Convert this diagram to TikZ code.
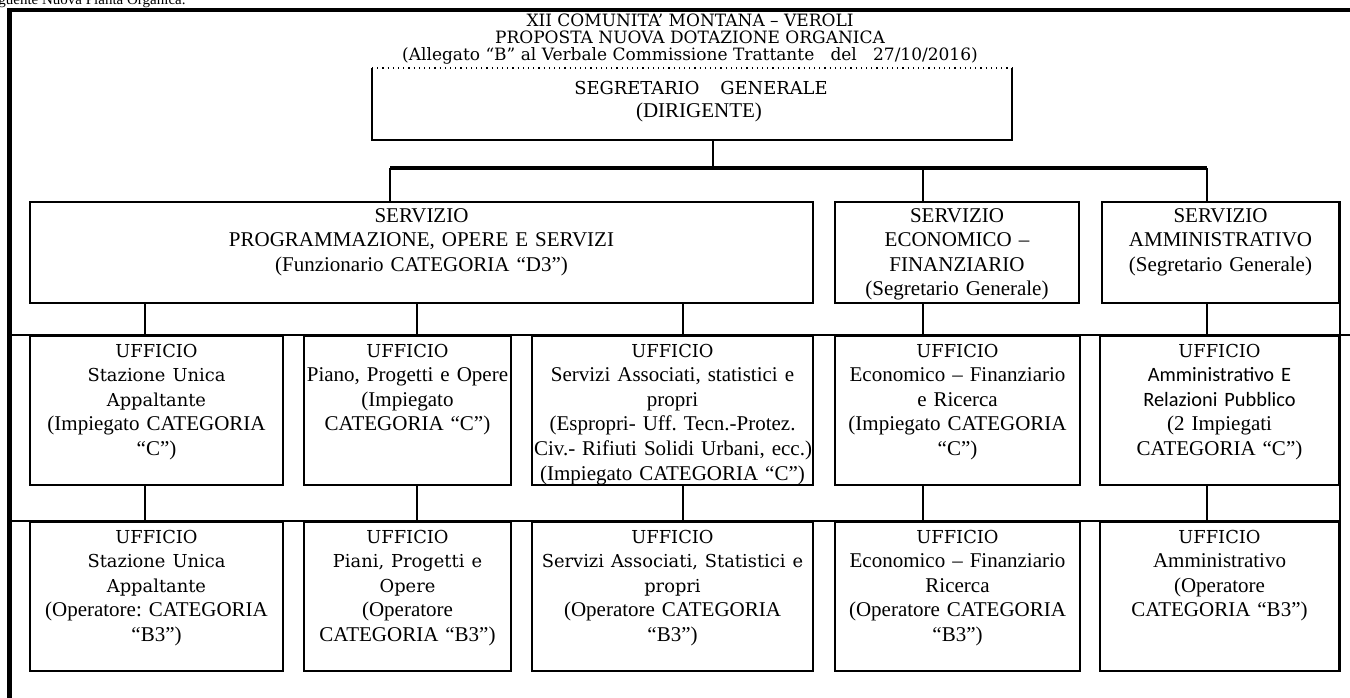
\documentclass[tikz,border=0pt]{standalone}
\usepackage{fontspec}
\setmainfont{Liberation Serif}
\newfontfamily\cam{DejaVu Serif}[Scale=0.85]
\newfontfamily\calibri{Carlito}[Scale=0.97]
\usetikzlibrary{calc}
\frenchspacing

\tikzset{
	cell/.style={draw, line width=1pt, anchor=north west, inner xsep=1pt, inner ysep=0pt, align=center, font=\fontsize{10.5}{12.3}\selectfont},
	srvrow/.style={cell, text height=10pt, text depth=40.5pt},
	uffrow/.style={cell, text height=10.5pt, text depth=64pt},
	link/.style={line width=1pt},
	bus/.style={line width=2pt},
	frame/.style={line width=2.4pt}
}

\begin{document}
\begin{tikzpicture}[x=0.5pt, y=-0.5pt]
	\useasboundingbox (0,0) rectangle (1350,697);
	\coordinate (fr) at (9.5,10);
	\coordinate (edgeR) at (1352,10);
	\coordinate (edgeB) at (9.5,699);
	\draw[frame] (edgeB) -- (fr) -- (edgeR);
	\node[anchor=base west, inner sep=0pt, font=\fontsize{7.5}{9}\selectfont] (hdr) at (-2,4) {guente Nuova Pianta Organica.};
	\node[align=center, inner sep=0pt, font={\cam\fontsize{10}{8.7}\selectfont}] (ttl) at (690,39)
		{XII COMUNITA’ MONTANA – VEROLI\\PROPOSTA NUOVA DOTAZIONE ORGANICA\\(Allegato “B” al Verbale Commissione Trattante\ \ \ del\ \ \ 27/10/2016)};

	% segretario
	\node[cell, draw=none, text width=317pt, text height=12.75pt, text depth=22.25pt, font=\fontsize{10.5}{11.5}\selectfont] (seg) at (372,68)
		{\hspace*{9pt}{\cam SEGRETARIO\ \ \ GENERALE}\\\hspace*{7pt}(DIRIGENTE)};
	\draw[link] (seg.north west) -- (seg.south west) -- (seg.south east) -- (seg.north east);
	\draw[dotted, line width=0.6pt] (seg.north west) -- (seg.north east);

	% servizi
	\node[srvrow, text width=389.5pt] (srvA) at (29,201) {SERVIZIO\\PROGRAMMAZIONE, OPERE E SERVIZI\\(Funzionario CATEGORIA “D3”)};
	\node[srvrow, text width=120pt] (srvB) at (834,201) {SERVIZIO\\ECONOMICO –\\FINANZIARIO\\(Segretario Generale)};
	\node[srvrow, text width=116.5pt] (srvC) at (1101,201) {SERVIZIO\\AMMINISTRATIVO\\(Segretario Generale)};

	\coordinate (busL) at (390,168);
	\coordinate (busM) at (713,168);
	\coordinate (busE) at (923,168);
	\coordinate (busR) at (1207,168);
	\draw[bus] (busL) -- (busR);
	\draw[link] (busM |- seg.south) -- (busM);
	\foreach \b/\s in {busL/srvA, busE/srvB, busR/srvC}
		\draw[link] (\b) -- (\b |- \s.north);

	% uffici (impiegati)
	\node[uffrow, text width=124.5pt] (uff1) at (29,335) {{\cam UFFICIO}\\{\cam Stazione Unica}\\{\cam Appaltante}\\(Impiegato CATEGORIA\\“C”)};
	\node[uffrow, text width=101.5pt] (uff2) at (303,335) {{\cam UFFICIO}\\\mbox{Piano, Progetti e Opere}\\(Impiegato\\CATEGORIA “C”)};
	\node[uffrow, text width=138.5pt] (uff3) at (531,335) {{\cam UFFICIO}\\Servizi Associati, statistici e\\propri\\(Espropri- Uff. Tecn.-Protez.\\\mbox{Civ.- Rifiuti Solidi Urbani, ecc.)}\\(Impiegato CATEGORIA “C”)};
	\node[uffrow, text width=120.5pt] (uff4) at (834,335) {{\cam UFFICIO}\\Economico – Finanziario\\e Ricerca\\(Impiegato CATEGORIA\\“C”)};
	\node[uffrow, text width=117.5pt] (uff5) at (1099,335) {{\cam UFFICIO}\\{\calibri Amministrativo E}\\{\calibri Relazioni Pubblico}\\(2 Impiegati\\CATEGORIA “C”)};

	% uffici (operatori)
	\node[uffrow, text width=124.5pt] (ofc1) at (29,521) {{\cam UFFICIO}\\{\cam Stazione Unica}\\{\cam Appaltante}\\(Operatore: CATEGORIA\\“B3”)};
	\node[uffrow, text width=101.5pt] (ofc2) at (303,521) {{\cam UFFICIO}\\{\cam Piani, Progetti e}\\{\cam Opere}\\(Operatore\\CATEGORIA “B3”)};
	\node[uffrow, text width=138.5pt] (ofc3) at (531,521) {{\cam UFFICIO}\\{\cam Servizi Associati, Statistici e}\\{\cam propri}\\(Operatore CATEGORIA\\“B3”)};
	\node[uffrow, text width=120.5pt] (ofc4) at (834,521) {{\cam UFFICIO}\\Economico – Finanziario\\Ricerca\\(Operatore CATEGORIA\\“B3”)};
	\node[uffrow, text width=117.5pt] (ofc5) at (1099,521) {{\cam UFFICIO}\\Amministrativo\\(Operatore\\CATEGORIA “B3”)};

	\draw[link] (fr |- uff1.north) -- (edgeR |- uff1.north);
	\draw[link] (fr |- ofc1.north) -- (ofc5.north east);
	\draw[link] (srvC.north east) -- (ofc5.south east);
	\foreach \x/\a/\b in {145/srvA/uff1, 417/srvA/uff2, 683/srvA/uff3, 923/srvB/uff4, 1207/srvC/uff5,
		145/uff1/ofc1, 417/uff2/ofc2, 683/uff3/ofc3, 923/uff4/ofc4, 1207/uff5/ofc5}
		\draw[link] (\x,0 |- \a.south) -- (\x,0 |- \b.north);
\end{tikzpicture}
\end{document}
